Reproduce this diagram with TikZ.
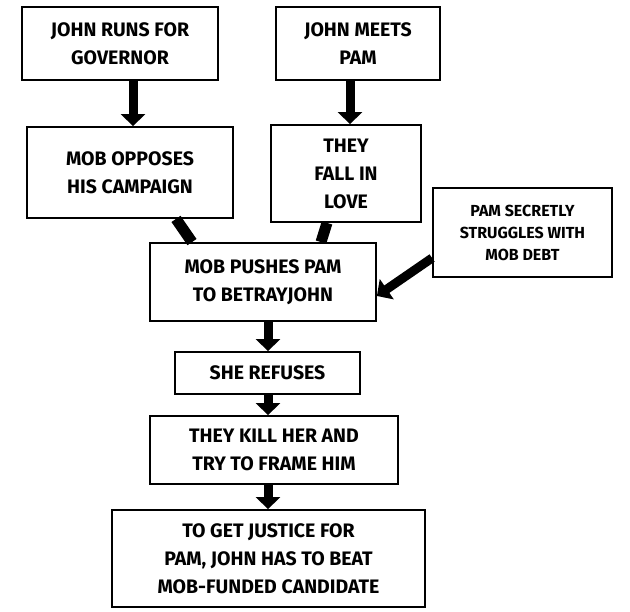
\documentclass[tikz,border=0pt]{standalone}
\usepackage{fontspec}
\setmainfont{Fira Sans}[UprightFont=* Bold]
\usetikzlibrary{arrows.meta}
\begin{document}
\begin{tikzpicture}[x=1pt,y=-1pt,
  box/.style={draw,line width=1.8pt,align=center,font=\fontsize{19.5}{28}\selectfont,inner sep=0pt},
  conn/.style={line width=11pt},
  arr/.style={line width=9pt,-{Triangle[length=12pt,width=24pt]}}]
\useasboundingbox (0,0) rectangle (630,612);
\node[box,minimum width=196pt,minimum height=73pt] (a) at (120,43.5) {JOHN RUNS FOR\\GOVERNOR};
\node[box,minimum width=164pt,minimum height=73pt] (b) at (358,43.5) {JOHN MEETS\\PAM};
\node[box,minimum width=206pt,minimum height=91pt] (c) at (130,172.5) {MOB OPPOSES\\HIS CAMPAIGN};
\node[box,minimum width=150pt,minimum height=97pt] (d) at (346,173.5) {THEY\\FALL IN\\LOVE};
\node[box,minimum width=179pt,minimum height=89pt,font=\fontsize{16}{22}\selectfont] (e) at (522.5,232.5) {PAM SECRETLY\\STRUGGLES WITH\\MOB DEBT};
\node[box,minimum width=226pt,minimum height=78pt] (f) at (263,282) {MOB PUSHES PAM\\TO BETRAYJOHN};
\node[box,minimum width=185pt,minimum height=42pt] (g) at (267.5,373) {SHE REFUSES};
\node[box,minimum width=248pt,minimum height=68pt] (h) at (274,450) {THEY KILL HER AND\\TRY TO FRAME HIM};
\node[box,minimum width=313pt,minimum height=97pt] (i) at (268.5,558.5) {TO GET JUSTICE FOR\\PAM, JOHN HAS TO BEAT\\MOB-FUNDED CANDIDATE};
\draw[arr] (a.south -| 133,0) -- (c.north -| 133,0);
\draw[arr] (b.south -| 350,0) -- (d.north -| 350,0);
\draw[conn] (c.south -| 176,0) -- (f.north -| 192,0);
\draw[conn] (d.south -| 327,0) -- (f.north -| 321,0);
\draw[arr] (e.west |- 0,258) -- (f.east |- 0,296);
\draw[arr] (f.south -| 268,0) -- (g.north -| 268,0);
\draw[arr] (g.south -| 268,0) -- (h.north -| 268,0);
\draw[arr] (h.south -| 268,0) -- (i.north -| 268,0);
\end{tikzpicture}
\end{document}
